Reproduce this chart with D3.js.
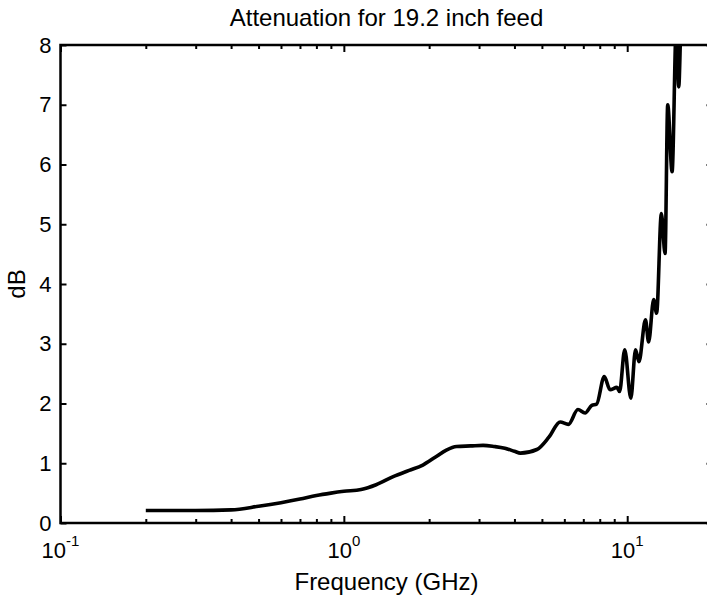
<!DOCTYPE html>
<html>
<head>
<meta charset="utf-8">
<script src="https://cdn.jsdelivr.net/npm/d3@7"></script>
<style>
  body { margin: 0; background: #fff; }
  svg { display: block; font-family: "Liberation Sans", Arial, sans-serif; }
</style>
</head>
<body>
<svg id="chart" width="707" height="599"></svg>
<script>
// attenuation curve
const freqGHz = [0.2, 0.3, 0.4, 0.5, 0.6, 0.7, 0.8, 0.9, 1.0, 1.15, 1.3, 1.5, 1.7, 1.9, 2.1, 2.3, 2.5, 2.8, 3.1, 3.4, 3.7, 4.0, 4.2,
  4.8, 5.3, 5.8, 6.2, 6.7, 7.1, 7.5, 7.8, 8.3, 8.7, 9.2, 9.4, 9.8, 10.3, 10.7, 11.0, 11.6, 11.9, 12.4, 12.7,
  13.2, 13.6, 13.9, 14.4, 14.9, 15.2, 15.5, 15.8];
const attenDb = [0.21, 0.21, 0.22, 0.28, 0.34, 0.40, 0.46, 0.50, 0.53, 0.56, 0.64, 0.78, 0.88, 0.97, 1.10, 1.22, 1.28, 1.29, 1.30, 1.28, 1.25, 1.20, 1.17,
  1.23, 1.44, 1.69, 1.65, 1.90, 1.84, 1.97, 1.99, 2.45, 2.23, 2.27, 2.20, 2.90, 2.09, 2.90, 2.70, 3.40, 3.03, 3.74, 3.51,
  5.18, 4.51, 7.00, 5.88, 8.30, 7.30, 8.40, 8.60];

const yTicks = [0, 1, 2, 3, 4, 5, 6, 7, 8];
const xMajor = [0.1, 1, 10];
const xMajorExp = ["-1", "0", "1"];
const xMinor = [0.2, 0.3, 0.4, 0.5, 0.6, 0.7, 0.8, 0.9, 2, 3, 4, 5, 6, 7, 8, 9, 20];

const titleText = "Attenuation for 19.2 inch feed";
const xLabel = "Frequency (GHz)";
const yLabel = "dB";

const mLeft = 60.5, mRight = 712.5, mTop = 45, mBottom = 523;

const svg = d3.select("#chart");

const x = d3.scaleLog().domain([0.1, 20]).range([mLeft, mRight]);
const y = d3.scaleLinear().domain([0, 8]).range([mBottom, mTop]);

// clip so the curve stops at the top of the box
svg.append("clipPath").attr("id", "plotclip")
  .append("rect")
  .attr("x", mLeft).attr("y", mTop)
  .attr("width", mRight - mLeft).attr("height", mBottom - mTop);

// box
svg.append("rect")
  .attr("x", mLeft).attr("y", mTop)
  .attr("width", mRight - mLeft).attr("height", mBottom - mTop)
  .attr("fill", "none").attr("stroke", "#000").attr("stroke-width", 2.5);

// y axes (ticks inward)
const yLeft = d3.axisLeft(y).tickValues(yTicks).tickSize(-6).tickPadding(9).tickFormat(d3.format("d"));
svg.append("g").attr("transform", "translate(" + mLeft + ",0)").call(yLeft)
  .call(g => g.select(".domain").remove())
  .call(g => g.selectAll("line").attr("stroke-width", 2))
  .call(g => g.selectAll("text").attr("font-size", 22).attr("fill", "#000")
    .attr("font-family", "Liberation Sans, Arial, sans-serif"));

const yRight = d3.axisLeft(y).tickValues(yTicks).tickSize(6).tickFormat("");
svg.append("g").attr("transform", "translate(" + mRight + ",0)").call(yRight)
  .call(g => g.select(".domain").remove())
  .call(g => g.selectAll("line").attr("stroke-width", 2));

// x axes: minor + major ticks, bottom and top
function xTicks(vals, size, pos) {
  const ax = (pos === "bottom" ? d3.axisBottom(x) : d3.axisTop(x))
    .tickValues(vals).tickSize(-size).tickFormat("");
  svg.append("g").attr("transform", "translate(0," + (pos === "bottom" ? mBottom : mTop) + ")").call(ax)
    .call(g => g.select(".domain").remove())
    .call(g => g.selectAll("line").attr("stroke-width", 2));
}
xTicks(xMinor, 4, "bottom");
xTicks(xMajor, 7, "bottom");
xTicks(xMinor, 4, "top");
xTicks(xMajor, 7, "top");

// decade labels 10^n
const xl = svg.append("g").selectAll("text")
  .data(xMajor)
  .join("text")
  .attr("x", d => x(d))
  .attr("y", 558)
  .attr("text-anchor", "middle")
  .attr("font-size", 22);
xl.append("tspan").text("10");
xl.append("tspan")
  .attr("font-size", 15)
  .attr("dy", -12)
  .text((d, i) => xMajorExp[i]);

// curve
const line = d3.line()
  .x((d, i) => x(freqGHz[i]))
  .y(d => y(d))
  .curve(d3.curveMonotoneX);

svg.append("path")
  .datum(attenDb)
  .attr("clip-path", "url(#plotclip)")
  .attr("d", line)
  .attr("fill", "none")
  .attr("stroke", "#000")
  .attr("stroke-width", 3.6)
  .attr("stroke-linejoin", "round");

// title and axis labels
svg.append("text")
  .attr("x", (mLeft + mRight) / 2).attr("y", 26)
  .attr("text-anchor", "middle").attr("font-size", 24)
  .text(titleText);

svg.append("text")
  .attr("x", (mLeft + mRight) / 2).attr("y", 590)
  .attr("text-anchor", "middle").attr("font-size", 24)
  .text(xLabel);

svg.append("text")
  .attr("transform", "translate(25," + ((mTop + mBottom) / 2) + ") rotate(-90)")
  .attr("text-anchor", "middle").attr("font-size", 24)
  .text(yLabel);
</script>
</body>
</html>
